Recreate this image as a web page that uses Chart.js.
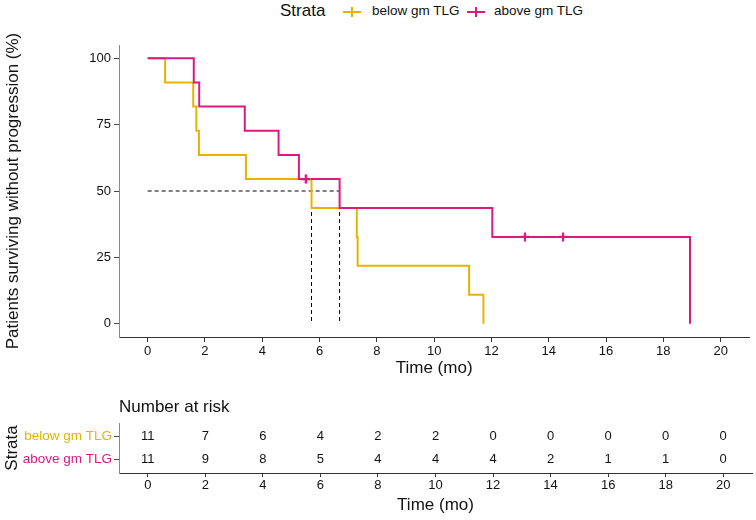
<!DOCTYPE html>
<html>
<head>
<meta charset="utf-8">
<script src="https://cdn.jsdelivr.net/npm/chart.js@4.4.1/dist/chart.umd.min.js"></script>
<style>
  body { margin: 0; background: #fff; }
  #wrap { position: relative; width: 756px; height: 520px; font-family: "Liberation Sans", Arial, sans-serif; color: #111; }
  #km { position: absolute; left: 0; top: 0; }
  #risk { position: absolute; left: 0; top: 380px; }
  .lg { position: absolute; white-space: nowrap; }
  .icon { position: absolute; width: 18px; height: 2px; top: 11px; }
  .icon::after { content: ""; position: absolute; left: 8px; top: -4px; width: 2px; height: 10px; background: inherit; }
</style>
</head>
<body>
<div id="wrap">
  <div id="legend"></div>
  <canvas id="km" width="756" height="380"></canvas>
  <canvas id="risk" width="756" height="140"></canvas>
</div>
<script>
// strata
const strataNames = ['below gm TLG', 'above gm TLG'];
const strataColors = ['#E7B300', '#DA1A80'];

// Kaplan-Meier steps (time in months, survival in %)
const belowTimes = [0, 0.61, 1.59, 1.70, 1.79, 3.43, 5.72, 7.30, 7.33, 11.22, 11.72];
const belowSurv = [100, 90.9, 81.8, 72.7, 63.6, 54.5, 43.6, 32.7, 21.8, 10.9, 0];
const aboveTimes = [0, 1.61, 1.80, 3.39, 4.57, 5.28, 6.70, 12.03, 18.93];
const aboveSurv = [100, 90.9, 81.8, 72.7, 63.6, 54.5, 43.6, 32.7, 0];

// censored observations
const belowCensorTimes = [5.54];
const belowCensorSurv = [54.5];
const aboveCensorTimes = [5.52, 13.17, 14.50];
const aboveCensorSurv = [54.5, 32.7, 32.7];

// median survival
const medianLevel = 50;
const medianTimes = [5.72, 6.70];

// ticks
const timeTicks = [0, 2, 4, 6, 8, 10, 12, 14, 16, 18, 20];
const survTicks = [0, 25, 50, 75, 100];

// number at risk
const riskTimes = [0, 2, 4, 6, 8, 10, 12, 14, 16, 18, 20];
const riskBelow = [11, 7, 6, 4, 2, 2, 0, 0, 0, 0, 0];
const riskAbove = [11, 9, 8, 5, 4, 4, 4, 2, 1, 1, 0];

const FONT = '"Liberation Sans", Arial, sans-serif';
Chart.defaults.font.family = FONT;
Chart.defaults.color = '#111';

function pts(xs, ys) {
    return xs.map((x, i) => ({ x: x, y: ys[i] }));
}

// legend on top (html)
const legend = document.getElementById('legend');
legend.innerHTML =
    '<span class="lg" style="left:280px;top:1px;font-size:17px;line-height:20px">Strata</span>';
const iconLeft = [343, 467];
const textLeft = [372, 494];
strataNames.forEach((name, i) => {
    legend.innerHTML +=
        '<span class="icon" style="left:' + iconLeft[i] + 'px;background:' + strataColors[i] + '"></span>' +
        '<span class="lg" style="left:' + textLeft[i] + 'px;top:3px;font-size:13.5px;line-height:16px">' + name + '</span>';
});

// dashed median lines
const medianSets = [
    { data: [{ x: 0, y: medianLevel }, { x: Math.max(...medianTimes), y: medianLevel }] }
];
medianTimes.forEach(t => {
    medianSets.push({ data: [{ x: t, y: medianLevel }, { x: t, y: 0 }] });
});

// first dataset is drawn on top: censor marks, then curves
const kmDatasets = [
    {
        type: 'scatter', data: pts(aboveCensorTimes, aboveCensorSurv),
        pointStyle: 'cross', pointRadius: 4.5, borderWidth: 2.2,
        borderColor: strataColors[1], backgroundColor: strataColors[1]
    },
    {
        type: 'scatter', data: pts(belowCensorTimes, belowCensorSurv),
        pointStyle: 'cross', pointRadius: 4.5, borderWidth: 2.2,
        borderColor: strataColors[0], backgroundColor: strataColors[0]
    },
    {
        data: pts(aboveTimes, aboveSurv), stepped: 'before',
        borderColor: strataColors[1], borderWidth: 2, pointRadius: 0, fill: false
    },
    {
        data: pts(belowTimes, belowSurv), stepped: 'before',
        borderColor: strataColors[0], borderWidth: 2, pointRadius: 0, fill: false
    }
].concat(medianSets.map(s => ({
    data: s.data, borderColor: '#000', borderWidth: 1, borderDash: [4, 3],
    pointRadius: 0, fill: false
})));

const kmChart = new Chart(document.getElementById('km'), {
    type: 'line',
    data: { datasets: kmDatasets },
    options: {
        responsive: false,
        animation: false,
        devicePixelRatio: 1,
        layout: { padding: { top: 45, right: 4, bottom: 1, left: 0 } },
        plugins: { legend: { display: false }, tooltip: { enabled: false } },
        scales: {
            x: {
                type: 'linear', min: -1, max: 21,
                afterBuildTicks: s => { s.ticks = timeTicks.map(v => ({ value: v })); },
                afterFit: s => { s.height = 42; },
                grid: { drawOnChartArea: false, tickLength: 5, color: '#333' },
                border: { color: '#333', width: 1 },
                ticks: { font: { size: 13 }, padding: 2, maxRotation: 0, color: '#111' },
                title: { display: true, text: 'Time (mo)', font: { size: 17 }, padding: 0, color: '#111' }
            },
            y: {
                type: 'linear', min: -5, max: 105,
                afterBuildTicks: s => { s.ticks = survTicks.map(v => ({ value: v })); },
                afterFit: s => { s.width = 119; },
                grid: { drawOnChartArea: false, tickLength: 5, color: '#444' },
                border: { color: '#888', width: 1 },
                ticks: { font: { size: 13 }, padding: 3, color: '#111' },
                title: {
                    display: true, text: 'Patients surviving without progression (%)',
                    font: { size: 17 }, padding: { top: 3, bottom: 0 }, color: '#111'
                }
            }
        }
    }
});

// risk table numbers, drawn at the chart's own scale positions
const riskTextPlugin = {
    id: 'riskText',
    afterDatasetsDraw(chart) {
        const { ctx, scales: { x, y } } = chart;
        ctx.save();
        ctx.font = '13px ' + FONT;
        ctx.fillStyle = '#111';
        ctx.textAlign = 'center';
        ctx.textBaseline = 'middle';
        const rows = [riskBelow, riskAbove];
        rows.forEach((row, r) => {
            riskTimes.forEach((t, i) => {
                ctx.fillText(String(row[i]), x.getPixelForValue(t), y.getPixelForValue(r + 1));
            });
        });
        ctx.textAlign = 'left';
        ctx.font = '17px ' + FONT;
        ctx.fillText('Number at risk', chart.chartArea.left, 27);
        ctx.restore();
    }
};

const riskChart = new Chart(document.getElementById('risk'), {
    type: 'scatter',
    data: { datasets: [] },
    plugins: [riskTextPlugin],
    options: {
        responsive: false,
        animation: false,
        devicePixelRatio: 1,
        layout: { padding: { top: 43, right: 4, bottom: 4, left: 0 } },
        plugins: { legend: { display: false }, tooltip: { enabled: false } },
        scales: {
            x: {
                type: 'linear', min: -1, max: 21,
                afterBuildTicks: s => { s.ticks = riskTimes.map(v => ({ value: v })); },
                afterFit: s => { s.height = 43; },
                grid: { drawOnChartArea: false, tickLength: 4, color: '#333' },
                border: { color: '#333', width: 1 },
                ticks: { font: { size: 13 }, padding: 1, maxRotation: 0, color: '#111' },
                title: { display: true, text: 'Time (mo)', font: { size: 17 }, padding: 0, color: '#111' }
            },
            y: {
                type: 'linear', min: 0.4, max: 2.6, reverse: true,
                afterBuildTicks: s => { s.ticks = strataNames.map((n, i) => ({ value: i + 1 })); },
                afterFit: s => { s.width = 119; },
                grid: { drawOnChartArea: false, tickLength: 5, color: '#444' },
                border: { color: '#888', width: 1 },
                ticks: {
                    font: { size: 13.5 }, padding: 2,
                    callback: v => strataNames[v - 1],
                    color: c => strataColors[c.index]
                },
                title: {
                    display: true, text: 'Strata',
                    font: { size: 17 }, padding: { top: 2, bottom: 0 }, color: '#111'
                }
            }
        }
    }
});
</script>
</body>
</html>
